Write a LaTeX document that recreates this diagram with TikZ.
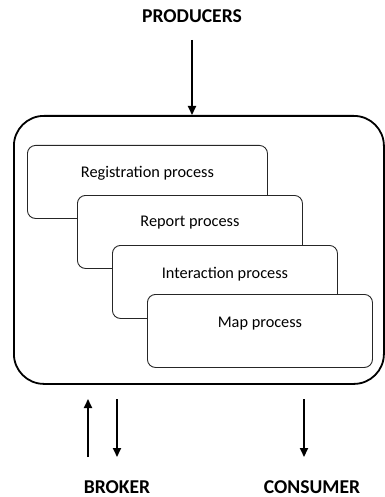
\documentclass[tikz,border=0pt]{standalone}
\usepackage{fontspec}
\setmainfont{Carlito}
\usetikzlibrary{arrows.meta,calc}
\begin{document}
\begin{tikzpicture}[x=1pt,y=-1pt,
  proc/.style={draw=black!85, line width=0.9pt, fill=white, rounded corners=8pt, minimum width=#1, minimum height=73pt, inner sep=0pt, anchor=north west},
  proctext/.style={font=\fontsize{16.3}{18}\selectfont, inner sep=0pt},
  lab/.style={font=\bfseries\fontsize{19.6}{21}\selectfont, inner sep=0pt},
  arr/.style={line width=2pt, -{Triangle[length=9pt,width=8pt]}}]
\useasboundingbox (0,0) rectangle (384,497);
\node[draw, line width=1.8pt, rounded corners=30pt, minimum width=370pt, minimum height=268pt, anchor=north west, inner sep=0pt] (outer) at (13,115) {};
\node[proc=240pt] (reg) at (27,145) {};
\node[proctext] (regt) at ($(reg.north)+(0,28)$) {Registration process};
\node[proc=225pt] (rep) at (77,195) {};
\node[proctext] (rept) at ($(rep.north)+(0,28)$) {Report process};
\node[proc=225pt] (int) at (112,245) {};
\node[proctext] (intt) at ($(int.north)+(0,29)$) {Interaction process};
\node[proc=225pt, minimum height=73pt] (map) at (147,294) {};
\node[proctext] (mapt) at ($(map.north)+(0,30)$) {Map process};
\node[lab] (prod) at (192,16) {PRODUCERS};
\node[lab] (brok) at (117,487) {BROKER};
\node[lab] (cons) at (312,487) {CONSUMER};
\coordinate (p1) at (192,40);
\coordinate (b1) at (88,457);
\coordinate (b2) at (88,399);
\coordinate (b3) at (117,399);
\coordinate (b4) at (117,457);
\coordinate (c1) at (304,399);
\coordinate (c2) at (304,457);
\draw[arr] (p1) -- (p1 |- outer.north);
\draw[arr] (b1) -- (b2);
\draw[arr] (b3) -- (b4);
\draw[arr] (c1) -- (c2);
\end{tikzpicture}
\end{document}
